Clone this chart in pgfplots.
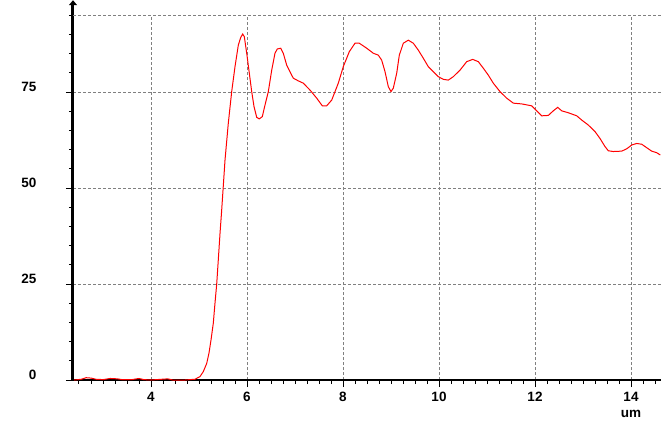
\documentclass[border=0pt]{standalone}
\usepackage{fontspec}
\setmainfont{Liberation Sans}
\usepackage{pgfplots}
\pgfplotsset{compat=1.18}
\usetikzlibrary{arrows.meta}
\definecolor{gridgray}{RGB}{128,128,128}
\begin{document}
\begin{tikzpicture}
\useasboundingbox (-73pt,-41pt) rectangle (588pt,380pt);
\begin{axis}[
  at={(0,0)}, anchor=south west,
  scale only axis, width=588pt, height=364.8pt,
  xmin=2.375, xmax=14.625, ymin=0, ymax=95,
  axis x line=bottom, axis y line=left,
  x axis line style={-, line width=2pt},
  y axis line style={-{Triangle[length=5pt, width=8pt]}, line width=3pt, shorten >=-15pt},
  xtick={4,6,...,14}, ytick={0,25,50,75},
  minor xtick={2.5,2.75,...,14.5},
  minor ytick={5,10,...,95},
  tick align=outside,
  major tick length=7pt, minor tick length=4pt,
  tick style={black, line width=1pt},
  grid=major,
  major grid style={gridgray, line width=1pt, dash pattern=on 3pt off 2pt},
  /pgf/number format/assume math mode=true,
  ticklabel style={font=\fontsize{13.5}{13.5}\selectfont\bfseries},
  xticklabel style={anchor=north, yshift=-1.5pt},
  yticklabel style={anchor=east, xshift=-26pt, yshift=5pt},
  xlabel={um},
  xlabel style={at={(rel axis cs:0.949,0)}, anchor=base, yshift=-37.5pt, font=\fontsize{13.5}{13.5}\selectfont\bfseries},
]
\draw[gridgray, line width=1pt, dash pattern=on 3pt off 2pt] (rel axis cs:0,1) -- (rel axis cs:1,1);
\addplot[red, line width=1pt] table {
x y
2.40 0.0
2.55 0.2
2.65 0.6
2.75 0.5
2.85 0.2
3.00 0.1
3.15 0.4
3.30 0.3
3.40 0.1
3.60 0.1
3.75 0.4
3.85 0.1
4.00 0.0
4.35 0.3
4.45 0.0
4.708 0.0
4.917 0.2
5.021 0.9
5.090 2.2
5.160 4.3
5.208 7.0
5.250 10.4
5.298 14.8
5.333 20.0
5.369 25.0
5.402 31.3
5.438 38.2
5.473 44.3
5.542 57.3
5.610 66.8
5.681 75.1
5.750 81.6
5.819 87.2
5.869 89.2
5.910 90.1
5.944 89.4
5.994 85.1
6.048 79.9
6.098 75.1
6.146 71.2
6.202 68.4
6.256 68.0
6.319 68.6
6.375 71.6
6.444 75.1
6.515 80.7
6.583 85.1
6.631 86.2
6.702 86.4
6.756 85.1
6.827 82.0
6.931 79.4
6.965 78.6
7.069 77.9
7.173 77.3
7.313 75.5
7.452 73.4
7.569 71.4
7.660 71.4
7.765 72.9
7.902 77.3
8.006 81.6
8.131 85.5
8.250 87.7
8.340 87.7
8.494 86.4
8.631 85.1
8.735 84.6
8.806 83.3
8.875 80.3
8.944 76.4
9.000 75.1
9.048 76.0
9.119 79.9
9.173 84.6
9.256 87.7
9.360 88.5
9.465 87.7
9.569 85.9
9.673 83.8
9.777 81.6
9.881 80.3
9.985 79.0
10.090 78.3
10.194 78.1
10.298 79.0
10.438 80.7
10.577 82.9
10.702 83.5
10.819 82.9
10.923 81.2
11.027 79.4
11.131 77.3
11.271 75.1
11.410 73.4
11.548 72.1
11.723 71.9
11.931 71.4
12.021 70.3
12.140 68.8
12.277 68.9
12.381 70.1
12.473 71.0
12.556 70.1
12.694 69.6
12.869 68.8
12.973 67.7
13.110 66.4
13.250 64.7
13.354 62.9
13.458 60.8
13.527 59.7
13.631 59.5
13.806 59.6
13.910 60.2
14.015 61.2
14.119 61.6
14.223 61.4
14.327 60.5
14.431 59.6
14.535 59.2
14.610 58.6
};
\end{axis}
\end{tikzpicture}
\end{document}
